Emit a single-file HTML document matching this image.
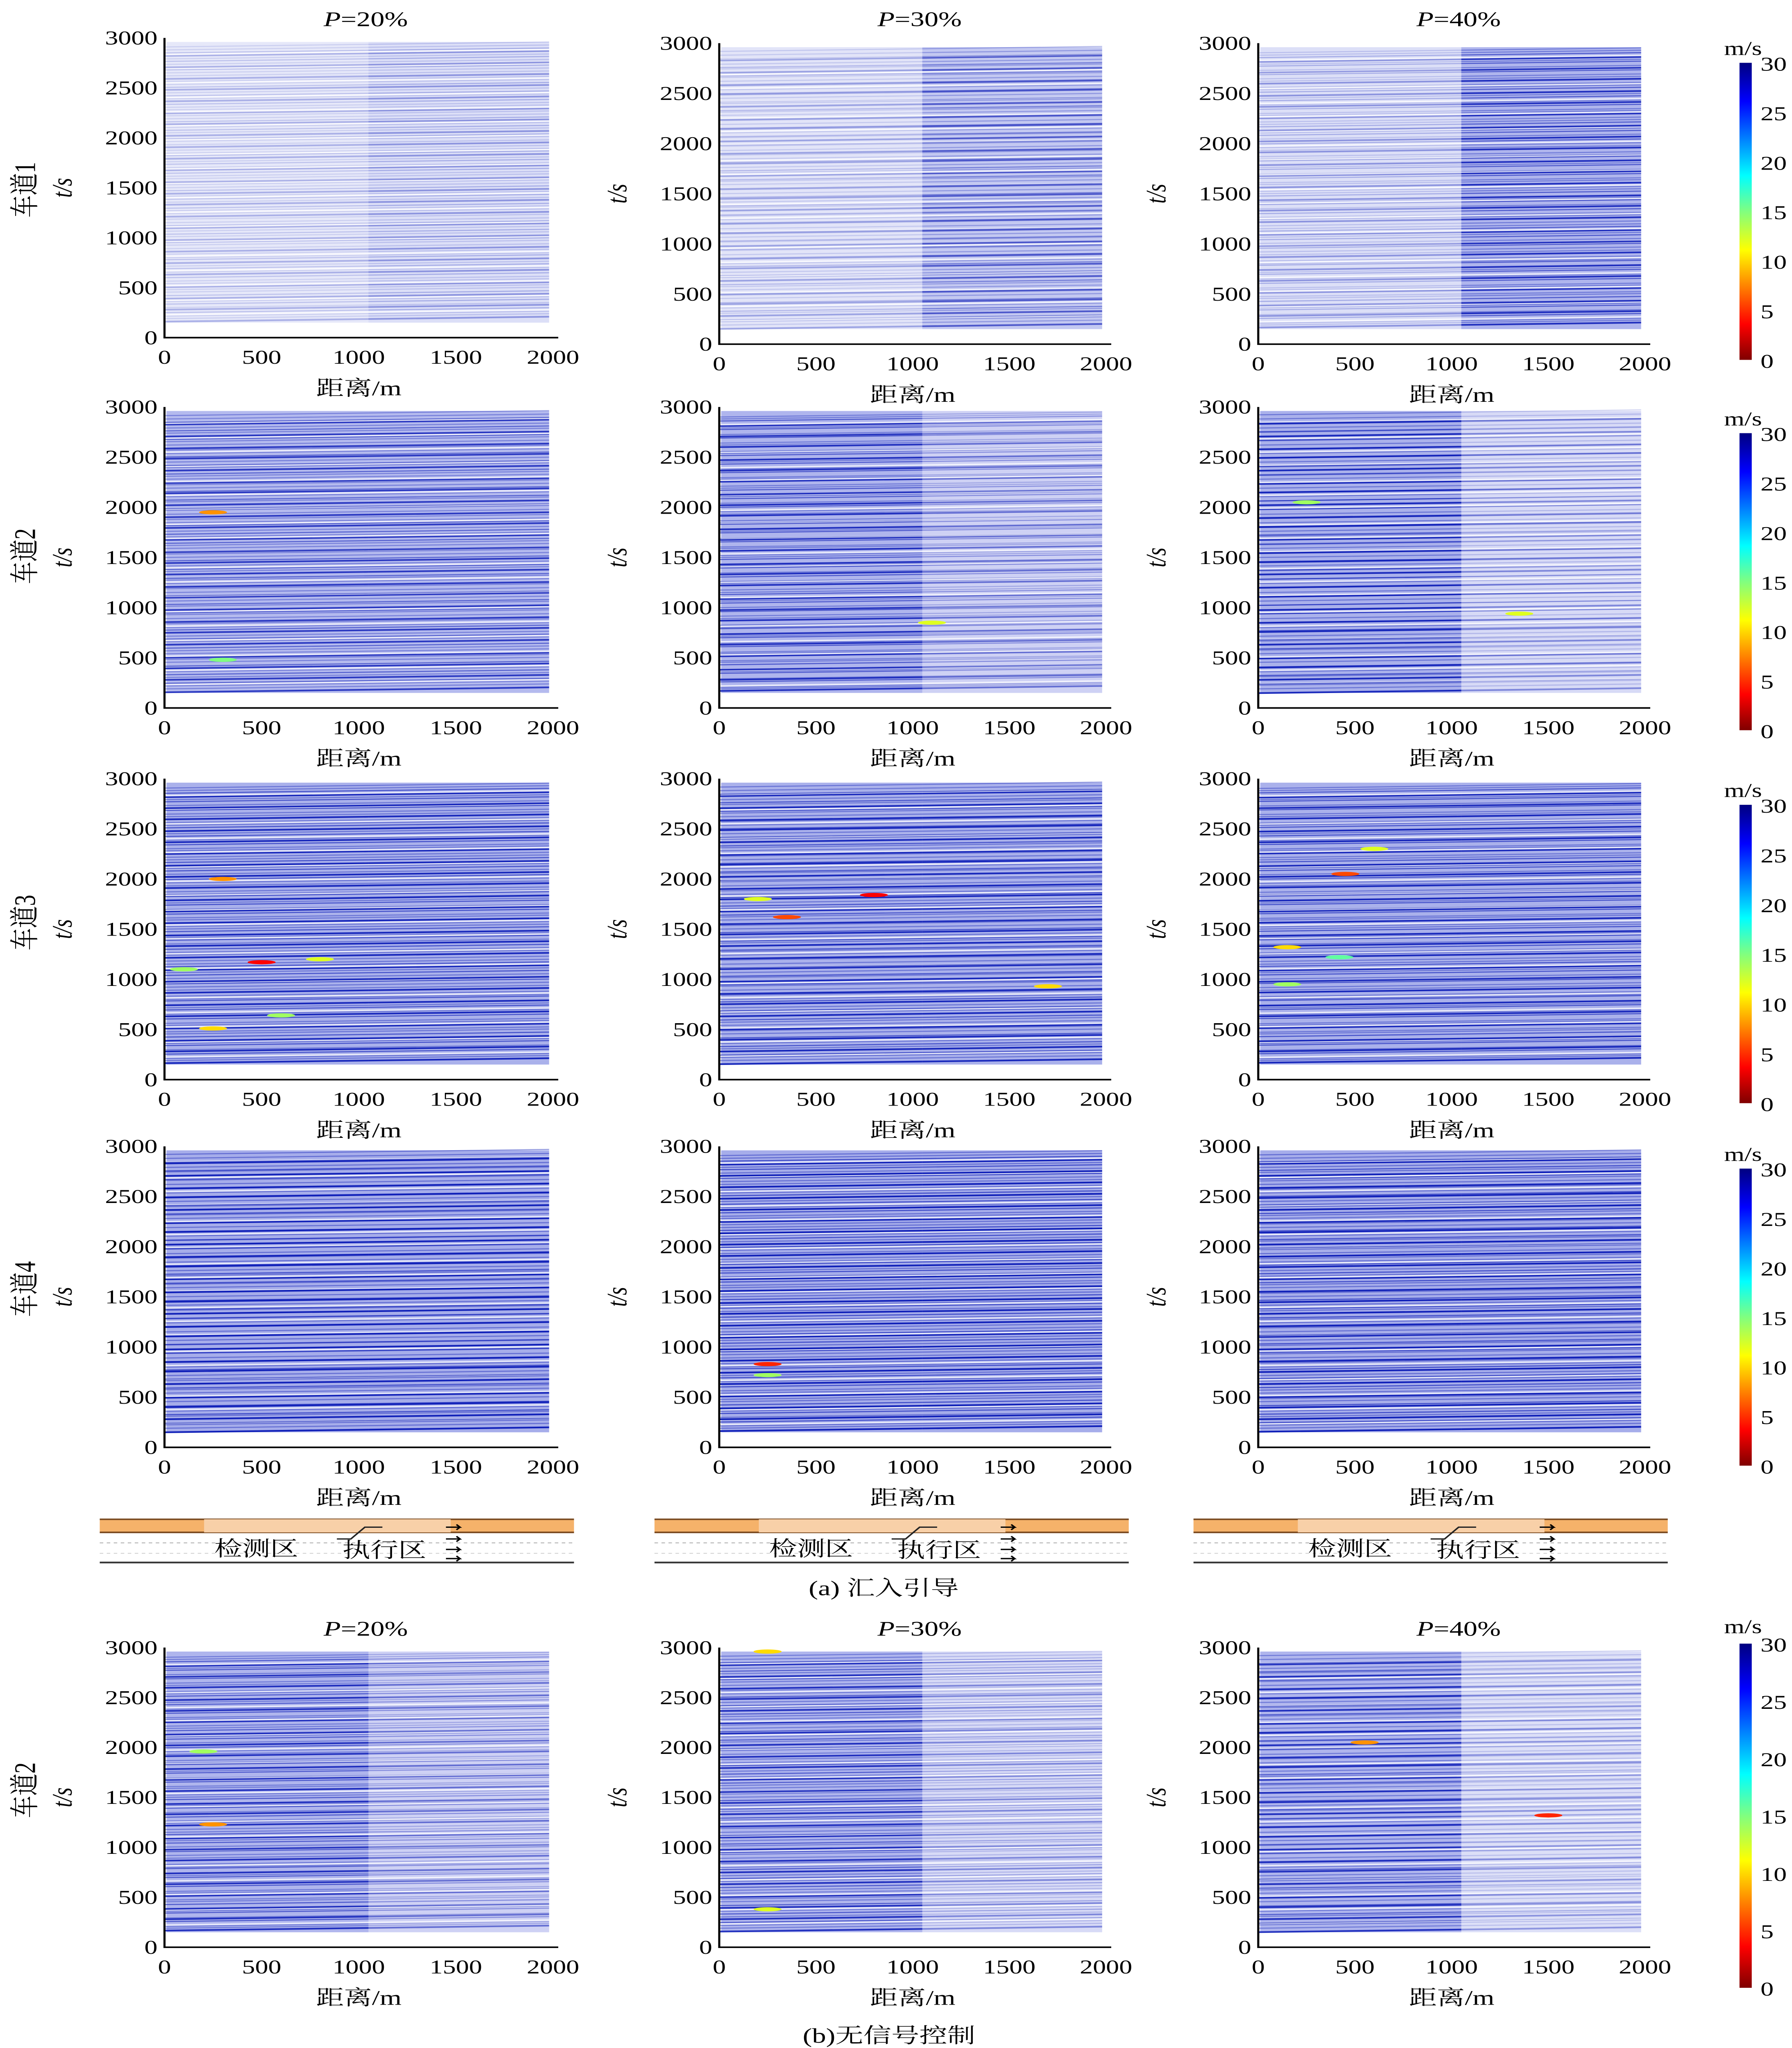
<!DOCTYPE html>
<html><head><meta charset="utf-8"><style>
html,body{margin:0;padding:0;background:#fff;overflow:hidden;width:100vw;height:100vh}
svg{display:block;width:100vw;height:100vh}
text{font-family:"Liberation Serif","Noto Serif CJK SC","Noto Sans CJK SC",serif;fill:#000}
</style></head><body>
<svg id="fig" xmlns="http://www.w3.org/2000/svg" viewBox="0 0 1024 1565" preserveAspectRatio="none">
<defs>
<linearGradient id="jet" x1="0" y1="1" x2="0" y2="0">
<stop offset="0" stop-color="#800000"/><stop offset="0.12" stop-color="#ff0000"/><stop offset="0.37" stop-color="#ffff00"/><stop offset="0.5" stop-color="#80ff80"/><stop offset="0.62" stop-color="#00ffff"/><stop offset="0.87" stop-color="#0000ff"/><stop offset="1" stop-color="#000080"/>
</linearGradient>
</defs>
<g id="panels"></g>
<g id="static"></g>
</svg>
<script>
// ---- data ----
const xTicks=[0,500,1000,1500,2000];
const yTicks=[0,500,1000,1500,2000,2500,3000];
const cbTicks=[0,5,10,15,20,25,30];
const titles=["P=20%","P=30%","P=40%"];
const laneLabels=["车道1","车道2","车道3","车道4","车道2"];
// darkness of left / right half of each panel (row-major, 5 rows x 3 cols)
const shadeLeft =[0.25,0.30,0.35, 0.75,0.80,0.85, 0.85,0.85,0.85, 0.90,0.90,0.90, 0.80,0.80,0.80];
const shadeRight=[0.35,0.60,0.80, 0.75,0.50,0.40, 0.85,0.85,0.85, 0.90,0.90,0.90, 0.50,0.40,0.35];
// vehicle entry times (s)
const entryTimes=[160,190,215,250,280,300,335,360,390,420,455,480,505,540,565,600,630,655,690,715,745,780,800,835,860,890,925,950,975,1010,1035,1065,1095,1120,1150,1185,1210,1240,1270,1295,1330,1355,1385,1415,1440,1470,1500,1530,1555,1590,1615,1645,1675,1700,1735,1760,1790,1820,1845,1875,1905,1930,1965,1990,2020,2050,2075,2105,2135,2160,2190,2220,2245,2280,2305,2335,2365,2390,2420,2450,2480,2505,2535,2565,2590,2620,2650,2680,2705,2735,2765,2790,2820,2850,2880,2910];
// per-panel time offsets for variety
const panelOffsets=[0,8,-6,4,-10,12,-4,6,-8,10,-2,5,-7,3,9];
// slow spots: [panel, x(m), t(s), speed m/s]
const slowSpots=[[3,250,1950,8],[3,300,480,15],[4,1100,850,12],[5,250,2050,14],[5,1350,940,12],
[6,300,2000,8],[6,500,1170,4],[6,800,1200,12],[6,100,1100,14],[6,250,510,10],[6,600,640,14],
[7,350,1620,6],[7,800,1840,4],[7,1700,930,10],[7,200,1800,12],
[8,450,2050,6],[8,600,2300,12],[8,150,1320,10],[8,150,950,14],[8,420,1220,16],
[10,250,830,5],[10,250,720,14],
[12,250,1230,8],[12,200,1960,14],[13,250,2960,10],[13,250,380,12],[14,1500,1320,5],[14,550,2050,8]];
// ---- layout ----
const colX=[[94,316],[411,632],[719,940]];
const rowY=[[[29,258],[33,263],[33,263]],[[311,541],[311,541],[311,541]],[[595,825],[595,825],[595,825]],[[876,1106],[876,1106],[876,1106]],[[1259,1488],[1259,1488],[1259,1488]]];
const cbY=[[48,275,37],[331,558,320],[615,843,604],[893,1120,882],[1256,1519,1243]];
const NS="http://www.w3.org/2000/svg";
function mk(tag,attrs,parent,txt){const e=document.createElementNS(NS,tag);for(const k in attrs)e.setAttribute(k,attrs[k]);if(txt!==undefined)e.textContent=txt;parent.appendChild(e);return e;}
function jet(v){const s=[[0,[128,0,0]],[4,[255,0,0]],[11,[255,255,0]],[15,[128,255,128]],[19,[0,255,255]],[26,[0,0,255]],[30,[0,0,128]]];
for(let i=0;i<s.length-1;i++){if(v<=s[i+1][0]){const f=(v-s[i][0])/(s[i+1][0]-s[i][0]);const c=s[i][1].map((a,j)=>Math.round(a+(s[i+1][1][j]-a)*f));return `rgb(${c})`;}}return "rgb(0,0,128)";}
const G=document.getElementById('panels');
for(let r=0;r<5;r++)for(let c=0;c<3;c++){
 const p=r*3+c;const [x0,x1]=colX[c];const [yT,yB]=rowY[r][c];
 const sx=v=>x0+(x1-x0)*v/2000, sy=t=>yB-(yB-yT)*t/3000;
 const g=mk('g',{},G);
 
 
 const xm=sx(1050);
 const bl=mk('rect',{x:sx(10),y:sy(2960),width:xm-sx(10),height:sy(150)-sy(2960),fill:'#2233cc','fill-opacity':shadeLeft[p]*0.45},g);
 
 const br=mk('rect',{x:xm,y:sy(2960),width:sx(1980)-xm,height:sy(150)-sy(2960),fill:'#2233cc','fill-opacity':shadeRight[p]*0.45},g);
 
 entryTimes.forEach((t0,i)=>{
  const t=t0+panelOffsets[p]*(i%3-1);
  const strong=(i%4===0)?1:(i%3===0?0.7:0.45);
  const w=(i%4===0)?1.3:0.8;
  [[0,1050,shadeLeft[p]],[1050,1980,shadeRight[p]]].forEach(([a,b,s])=>{
   const ln=mk('line',{x1:sx(a),y1:sy(t+a/40),x2:sx(b),y2:sy(t+b/40),stroke:'#1020b8','stroke-width':w,'stroke-opacity':Math.min(1,s*strong*1.1)},g);
   
  });
  if(i%5===2){const wl=mk('line',{x1:sx(0),y1:sy(t+14),x2:sx(1980),y2:sy(t+14+50)},g);
   wl.setAttribute('stroke','#ffffff');wl.setAttribute('stroke-width',1.2);wl.setAttribute('stroke-opacity',0.7);
   }
 });
 slowSpots.filter(s=>s[0]===p).forEach(s=>{
  const e=mk('ellipse',{cx:sx(s[1]),cy:sy(s[2]),rx:8,ry:1.6,fill:jet(s[3])},g);
  
 });
 const ax=mk('path',{d:`M${x0} ${yT}V${yB}H${x1+3}`,stroke:'#000','stroke-width':1.2,fill:'none'},g);
 
 yTicks.forEach(v=>{const tx=mk('text',{x:x0-4,y:sy(v)+5,'font-size':15,'text-anchor':'end'},g,String(v));
  });
 xTicks.forEach(v=>{const tx=mk('text',{x:sx(v),y:yB+20,'font-size':15,'text-anchor':'middle'},g,String(v));
  });
 const xl=mk('text',{x:(x0+x1)/2,y:yB+44,'font-size':16,'text-anchor':'middle'},g,'距离/m');
 
 const yl=mk('text',{x:0,y:0,'font-size':16,'text-anchor':'middle','font-style':'italic',transform:`translate(${x0-53},${(yT+yB)/2}) rotate(-90)`},g,'t/s');
 
 if(r===0||r===4){const tt=mk('text',{x:(x0+x1)/2+4,y:r===0?20:1250,'font-size':16,'text-anchor':'middle'},g);
  
  mk('tspan',{'font-style':'italic'},tt,'P');mk('tspan',{},tt,titles[c].slice(1));}
}
const S=document.getElementById('static');
const laneY=[145,425,705,985,1368];
laneLabels.forEach((l,r)=>{const t=mk('text',{x:0,y:0,'font-size':17,'text-anchor':'middle',transform:`translate(20,${laneY[r]}) rotate(-90)`},S,l);
 
 const [a,b,m]=cbY[r];
 const cb=mk('rect',{x:994,y:a,width:7,height:b-a,fill:'url(#jet)'},S);
 
 const mt=mk('text',{x:996,y:m+5,'font-size':15,'text-anchor':'middle'},S,'m/s');
 
 cbTicks.forEach(v=>{const y=b-(b-a)*v/30;const tx=mk('text',{x:1006,y:y+6,'font-size':15},S,String(v));
  });
});
[[57,328],[374,645],[682,953]].forEach(([a,b])=>{
 const g=mk('g',{},S);
 const w=b-a;
 mk('rect',{x:a,y:1161,width:w,height:10,fill:'#f5b26a'},g);
 mk('line',{x1:a,y1:1161,x2:b,y2:1161,stroke:'#7a4a20','stroke-width':1.2},g);
 mk('line',{x1:a,y1:1171,x2:b,y2:1171,stroke:'#7a4a20','stroke-width':1.2},g);
 mk('rect',{x:a+w*0.22,y:1161,width:w*0.52,height:10,fill:'#f8d0a8'},g);
 mk('line',{x1:a,y1:1179,x2:b,y2:1179,stroke:'#bbb','stroke-width':0.8,'stroke-dasharray':'2 2'},g);
 mk('line',{x1:a,y1:1187,x2:b,y2:1187,stroke:'#ccc','stroke-width':0.6,'stroke-dasharray':'2 2'},g);
 mk('line',{x1:a,y1:1194,x2:b,y2:1194,stroke:'#333','stroke-width':1.3},g);
 mk('path',{d:`M${a+w*0.5} 1176 h8 l8 -9 h10`,stroke:'#222',fill:'none','stroke-width':1},g);
 [1167,1176,1184,1191].forEach(y=>mk('path',{d:`M${a+w*0.73} ${y} h8 l-2 -2 M${a+w*0.73+8} ${y} l-2 2`,stroke:'#000',fill:'none','stroke-width':1},g));
 const t1=mk('text',{x:a+w*0.33,y:1189,'font-size':16,'text-anchor':'middle'},g,'检测区');
 
 const t2=mk('text',{x:a+w*0.6,y:1190,'font-size':16,'text-anchor':'middle'},g,'执行区');
 
});
const c1=mk('text',{x:505,y:1219,'font-size':16,'text-anchor':'middle'},S,'(a) 汇入引导');

const c2=mk('text',{x:508,y:1561,'font-size':16,'text-anchor':'middle'},S,'(b)无信号控制');

</script>
</body></html>
